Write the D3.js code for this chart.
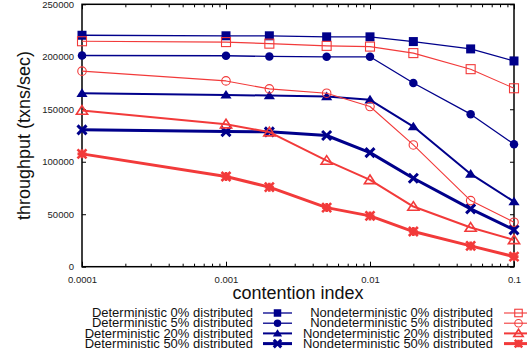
<!DOCTYPE html>
<html>
<head>
<meta charset="utf-8">
<script src="https://cdn.jsdelivr.net/npm/d3@7"></script>
<style>
html,body{margin:0;padding:0;background:#fff;}
svg{display:block;font-family:"Liberation Sans",Arial,Helvetica,sans-serif;}
</style>
</head>
<body>
<svg id="chart" width="527" height="356"></svg>
<script>
const contention = [0.0001, 0.001, 0.002, 0.005, 0.01, 0.02, 0.05, 0.1];
const xTickValues = [0.0001, 0.001, 0.01, 0.1];
const xTickLabels = ["0.0001", "0.001", "0.01", "0.1"];
const yTickValues = [0, 50000, 100000, 150000, 200000, 250000];
const yTickLabels = ["0", "50000", "100000", "150000", "200000", "250000"];

const det0  = [220500, 220000, 220000, 219000, 219000, 214500, 207500, 196000];
const det5  = [201200, 201000, 200300, 200000, 200000, 175000, 145300, 116700];
const det20 = [165300, 163700, 163000, 162100, 159000, 133500, 88400, 62000];
const det50 = [130400, 128700, 128500, 125000, 108700, 84300, 55100, 35100];
const nd0   = [214800, 214000, 212500, 210400, 209700, 203500, 188200, 170000];
const nd5   = [186300, 177000, 169400, 165300, 152600, 116000, 63000, 42400];
const nd20  = [148800, 135800, 128200, 101100, 82700, 57300, 37300, 25500];
const nd50  = [107500, 85900, 75800, 56300, 48400, 33500, 19800, 9600];

const seriesNames = [
  "Deterministic 0% distributed", "Deterministic 5% distributed",
  "Deterministic 20% distributed", "Deterministic 50% distributed",
  "Nondeterministic 0% distributed", "Nondeterministic 5% distributed",
  "Nondeterministic 20% distributed", "Nondeterministic 50% distributed"
];

const BLUE = "#00008b", RED = "#f23a3a";
const series = [
  {name: seriesNames[0], values: det0, color: BLUE, lw: 1.3, marker: "square", fill: true},
  {name: seriesNames[1], values: det5, color: BLUE, lw: 1.3, marker: "circle", fill: true},
  {name: seriesNames[2], values: det20, color: BLUE, lw: 2, marker: "triangle", fill: true},
  {name: seriesNames[3], values: det50, color: BLUE, lw: 3, marker: "x", fill: true},
  {name: seriesNames[4], values: nd0, color: RED, lw: 1.1, marker: "square", fill: false},
  {name: seriesNames[5], values: nd5, color: RED, lw: 1.1, marker: "circle", fill: false},
  {name: seriesNames[6], values: nd20, color: RED, lw: 2, marker: "triangle", fill: false},
  {name: seriesNames[7], values: nd50, color: RED, lw: 3, marker: "star", fill: false}
];

const L = 82, R = 514, T = 4.3, B = 266.7;
const x = d3.scaleLog().domain([0.0001, 0.1]).range([L, R]);
const y = d3.scaleLinear().domain([0, 250000]).range([B, T]);

const svg = d3.select("#chart");

// minor ticks for log axis
const minorTicks = [];
for (let d = 0.0001; d < 0.1 - 1e-12; d *= 10) {
  for (let k = 2; k <= 9; k++) minorTicks.push(+(d * k).toPrecision(3));
}

function styleAxis(g) {
  g.select(".domain").remove();
  g.selectAll("line").attr("stroke", "#000").attr("stroke-width", 1);
  g.selectAll("text").attr("fill", "#222").style("font-size", "9.5px");
}

// bottom major
svg.append("g").attr("transform", `translate(0,${B})`)
  .call(d3.axisBottom(x).tickValues(xTickValues).tickSize(-5).tickPadding(10)
    .tickFormat((d, i) => xTickLabels[i]))
  .call(styleAxis);
// bottom minor
svg.append("g").attr("transform", `translate(0,${B})`)
  .call(d3.axisBottom(x).tickValues(minorTicks).tickSize(-3).tickFormat(""))
  .call(styleAxis);
// top major/minor
svg.append("g").attr("transform", `translate(0,${T})`)
  .call(d3.axisTop(x).tickValues(xTickValues).tickSize(-5).tickFormat(""))
  .call(styleAxis);
svg.append("g").attr("transform", `translate(0,${T})`)
  .call(d3.axisTop(x).tickValues(minorTicks).tickSize(-3).tickFormat(""))
  .call(styleAxis);
// left
svg.append("g").attr("transform", `translate(${L},0)`)
  .call(d3.axisLeft(y).tickValues(yTickValues).tickSize(-4).tickPadding(8)
    .tickFormat((d, i) => yTickLabels[i]))
  .call(styleAxis);
// right
svg.append("g").attr("transform", `translate(${R},0)`)
  .call(d3.axisRight(y).tickValues(yTickValues).tickSize(-4).tickFormat(""))
  .call(styleAxis);

// frame
svg.append("rect").attr("x", L).attr("y", T).attr("width", R - L).attr("height", B - T)
  .attr("fill", "none").attr("stroke", "#000").attr("stroke-width", 1.5);

// markers
function drawMarker(g, type, cx, cy, color, fill, s) {
  const h = s / 2;
  if (type === "square") {
    g.append("rect").attr("x", cx - h).attr("y", cy - h).attr("width", s).attr("height", s)
      .attr("fill", fill ? color : "none").attr("stroke", color).attr("stroke-width", fill ? 0 : 1.1);
  } else if (type === "circle") {
    g.append("circle").attr("cx", cx).attr("cy", cy).attr("r", h)
      .attr("fill", fill ? color : "none").attr("stroke", color).attr("stroke-width", fill ? 0 : 1.1);
  } else if (type === "triangle") {
    const w = s * 0.62, hh = s * 0.55;
    const pts = [[cx, cy - hh], [cx + w, cy + hh * 0.75], [cx - w, cy + hh * 0.75]];
    g.append("polygon").attr("points", pts.map(p => p.join(",")).join(" "))
      .attr("fill", fill ? color : "none").attr("stroke", color).attr("stroke-width", fill ? 0 : 1.6);
  } else if (type === "x") {
    g.append("path").attr("d", `M${cx - h},${cy - h}L${cx + h},${cy + h}M${cx - h},${cy + h}L${cx + h},${cy - h}`)
      .attr("stroke", color).attr("stroke-width", 3).attr("fill", "none");
  } else if (type === "star") {
    g.append("path").attr("d", `M${cx - h},${cy - h}L${cx + h},${cy + h}M${cx - h},${cy + h}L${cx + h},${cy - h}M${cx - h},${cy}L${cx + h},${cy}M${cx},${cy - h}L${cx},${cy + h}`)
      .attr("stroke", color).attr("stroke-width", 2.6).attr("fill", "none");
  }
}

const line = d3.line().x((d, i) => x(contention[i])).y(d => y(d));
const plot = svg.append("g");
series.forEach(s => {
  plot.append("path").datum(s.values).attr("d", line)
    .attr("fill", "none").attr("stroke", s.color).attr("stroke-width", s.lw)
    .attr("stroke-linejoin", "round");
  const mg = plot.append("g");
  s.values.forEach((v, i) => {
    const sz = s.marker === "circle" ? 8.5 : (s.marker === "triangle" ? 9 : 9);
    drawMarker(mg, s.marker, x(contention[i]), y(v), s.color, s.fill, sz);
  });
});

// axis titles
svg.append("text").attr("x", 298).attr("y", 299).attr("text-anchor", "middle")
  .style("font-size", "18px").attr("fill", "#111").text("contention index");
svg.append("text").attr("transform", `translate(30,${(T + B) / 2}) rotate(-90)`)
  .attr("text-anchor", "middle").style("font-size", "18px").attr("fill", "#111")
  .text("throughput (txns/sec)");

// legend
const legendRowY = [313, 323.2, 333.4, 343.6];
const legend = svg.append("g");
series.forEach((s, idx) => {
  const col = idx < 4 ? 0 : 1;
  const row = idx % 4;
  const cy = legendRowY[row];
  const textRight = col === 0 ? 253 : 493;
  const lx1 = col === 0 ? 263 : 504;
  const lx2 = col === 0 ? 292 : 533;
  const mx = col === 0 ? 277.5 : 518.5;
  legend.append("text").attr("x", textRight).attr("y", cy + 4.2).attr("text-anchor", "end")
    .style("font-size", "13px").attr("fill", "#111").text(s.name);
  legend.append("line").attr("x1", lx1).attr("x2", lx2).attr("y1", cy).attr("y2", cy)
    .attr("stroke", s.color).attr("stroke-width", s.lw);
  drawMarker(legend, s.marker, mx, cy, s.color, s.fill, 7.5);
});
</script>
</body>
</html>
